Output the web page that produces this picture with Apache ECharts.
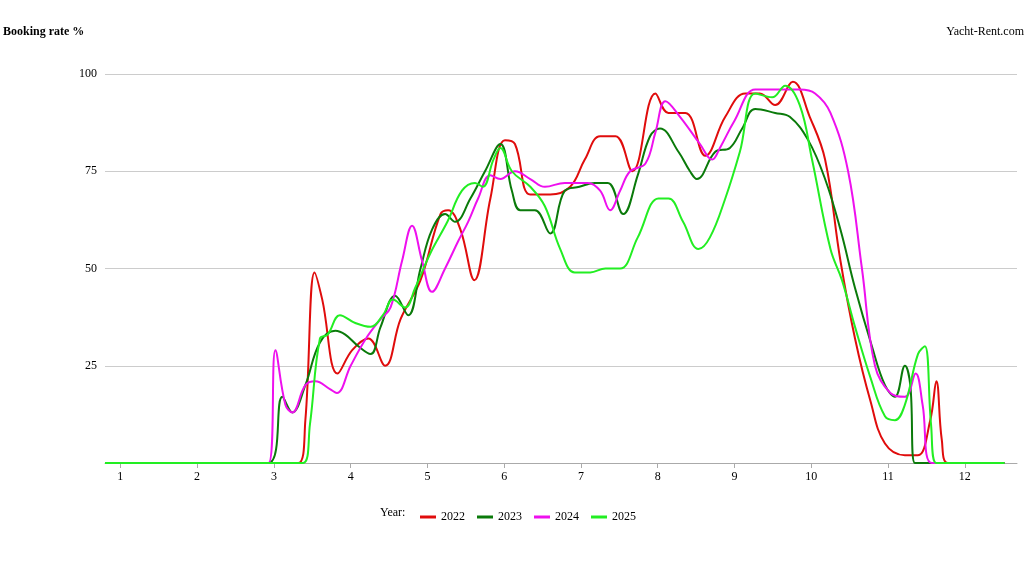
<!DOCTYPE html>
<html><head><meta charset="utf-8">
<script src="https://cdn.jsdelivr.net/npm/echarts@6/dist/echarts.min.js"></script>
<style>html,body{margin:0;padding:0;background:#fff}#c{width:1024px;height:565px}</style>
</head><body><div id="c"></div>
<script>
const years = ['2022','2023','2024','2025'];
const colors = ['#e00c0c','#0a7a0a','#ee10ee','#22ee22'];
const monthTicks = [1,2,3,4,5,6,7,8,9,10,11,12];
const yTicks = [25,50,75,100];
const d2022 = [[0.8,0],[3.32,0],[3.41,11],[3.53,49],[3.63,42],[3.83,23],[4.02,29],[4.23,32],[4.45,25],[4.65,37],[4.91,47],[5.17,64],[5.27,65],[5.43,60],[5.61,47],[5.82,68],[6.01,83],[6.14,82],[6.34,69],[6.6,69],[6.86,71],[7.05,78],[7.25,84],[7.45,84],[7.67,75],[7.97,95],[8.14,90],[8.36,90],[8.62,79],[8.88,89],[9.14,95],[9.33,95],[9.53,92],[9.76,98],[9.98,89],[10.18,78],[10.38,52],[10.57,32],[10.77,16],[10.96,5],[11.22,2],[11.39,2],[11.55,11],[11.63,21],[11.7,6],[11.78,0],[12.52,0]];
const d2023 = [[0.8,0],[2.93,0],[3.11,17],[3.24,13],[3.41,20],[3.6,31],[3.8,34],[3.93,33],[4.1,30],[4.26,28],[4.39,35],[4.58,43],[4.75,38],[4.91,50],[5.06,60],[5.23,64],[5.36,62],[5.56,68],[5.75,75],[5.95,82],[6.1,70],[6.21,65],[6.4,65],[6.6,59],[6.79,70],[6.98,71],[7.18,72],[7.35,72],[7.55,64],[7.74,74],[7.9,84],[8.03,86],[8.27,80],[8.42,75],[8.51,73],[8.75,80],[8.94,81],[9.1,86],[9.27,91],[9.53,90],[9.72,89],[9.96,83],[10.18,73],[10.38,60],[10.57,45],[10.79,30],[10.96,20],[11.09,17],[11.22,25],[11.29,20],[11.35,0],[11.61,0],[12.52,0]];
const d2024 = [[0.8,0],[2.93,0],[3.02,29],[3.15,15],[3.24,13],[3.41,20],[3.54,21],[3.73,19],[3.82,18],[4.0,25],[4.2,32],[4.39,37],[4.52,40],[4.67,52],[4.8,61],[4.93,52],[5.06,44],[5.23,50],[5.4,57],[5.53,62],[5.66,68],[5.82,74],[5.95,73],[6.14,75],[6.34,73],[6.53,71],[6.79,72],[7.09,72],[7.25,70],[7.38,65],[7.51,70],[7.64,75],[7.84,77],[7.97,85],[8.1,93],[8.29,89],[8.55,82],[8.71,78],[8.81,81],[9.0,88],[9.27,96],[9.53,96],[9.85,96],[10.05,95],[10.25,90],[10.48,75],[10.66,50],[10.83,25],[11.03,18],[11.22,17],[11.36,23],[11.45,15],[11.57,0],[12.52,0]];
const d2025 = [[0.8,0],[3.38,0],[3.47,10],[3.6,32],[3.7,33],[3.86,38],[4.06,36],[4.26,35],[4.42,38],[4.55,42],[4.71,40],[4.84,45],[5.04,54],[5.26,62],[5.45,70],[5.62,72],[5.72,71],[5.86,78],[5.95,81],[6.1,75],[6.34,71],[6.53,66],[6.73,55],[6.92,49],[7.12,49],[7.32,50],[7.51,50],[7.74,58],[8.01,68],[8.14,68],[8.33,62],[8.53,55],[8.68,58],[8.88,68],[9.07,80],[9.27,95],[9.49,94],[9.66,97],[9.85,92],[10.01,78],[10.25,55],[10.4,47],[10.57,35],[10.77,22],[10.96,12],[11.09,11],[11.22,15],[11.39,28],[11.48,30],[11.56,10],[11.63,0],[12.52,0]];
const data = [d2022,d2023,d2024,d2025];
const F = 'Liberation Serif, Times New Roman, serif';
const chart = echarts.init(document.getElementById('c'));
chart.setOption({
  animation:false,
  textStyle:{fontFamily:F},
  title:[
    {text:'Booking rate %',left:3,top:26,padding:0,textStyle:{fontFamily:F,fontSize:12,fontWeight:'bold',color:'#000'}},
    {text:'Yacht-Rent.com',right:0,top:26,padding:0,textStyle:{fontFamily:F,fontSize:12,fontWeight:'normal',color:'#000'}},
    {text:'Year:',left:380,top:507,padding:0,textStyle:{fontFamily:F,fontSize:12,fontWeight:'normal',color:'#000'}}
  ],
  legend:{left:415,top:506,itemWidth:16,itemHeight:3,itemGap:12,icon:'rect',
    textStyle:{fontFamily:F,fontSize:12,color:'#000'},data:years},
  grid:{left:105,right:7,top:74,bottom:102},
  xAxis:{type:'value',min:0.8,max:12.68,
    axisLine:{lineStyle:{color:'#aaa'}},
    axisTick:{show:true,customValues:monthTicks,lineStyle:{color:'#aaa'}},
    axisLabel:{customValues:monthTicks,color:'#000',fontFamily:F,fontSize:12},
    splitLine:{show:false}},
  yAxis:{type:'value',min:0,max:100,interval:25,
    axisLine:{show:false},axisTick:{show:false},
    axisLabel:{customValues:yTicks,color:'#000',fontFamily:F,fontSize:12},
    splitLine:{show:true,lineStyle:{color:'#ccc'}}},
  series: years.map((y,i)=>({name:y,type:'line',data:data[i],smooth:0.4,symbol:'none',
    color:colors[i],lineStyle:{width:2,color:colors[i]}}))
});
</script></body></html>
